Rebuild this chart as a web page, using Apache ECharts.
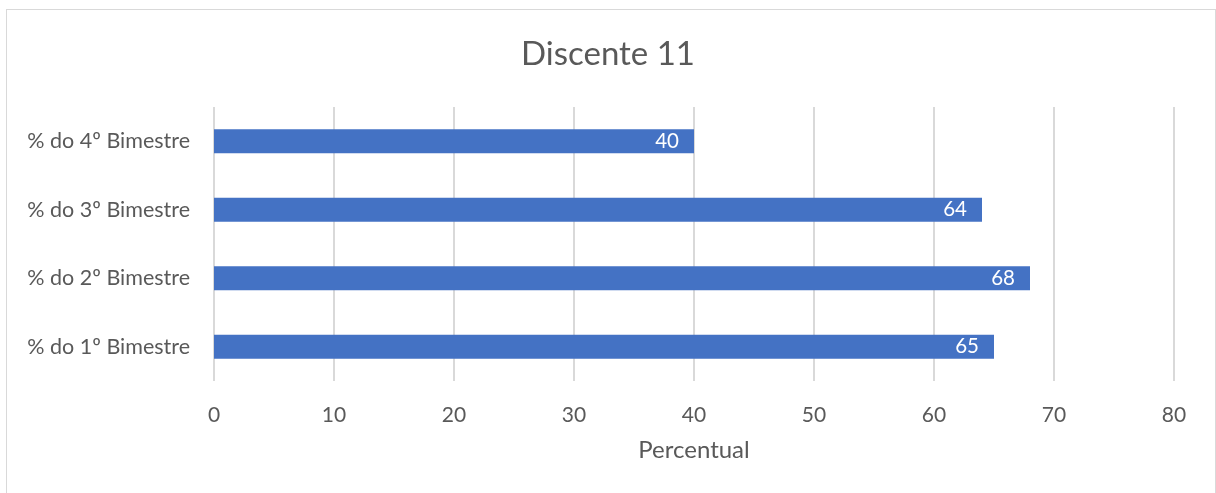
<!DOCTYPE html>
<html>
<head>
<meta charset="utf-8">
<script src="https://cdn.jsdelivr.net/npm/echarts@6/dist/echarts.min.js"></script>
<style>
  html, body { margin: 0; padding: 0; background: #fff; }
  #frame { position: absolute; left: 6px; top: 9px; width: 1208px; height: 490px; border: 1px solid #d9d9d9; }
  #chart { position: absolute; left: 0; top: 0; width: 1216px; height: 493px; }
</style>
</head>
<body>
<div id="frame"></div>
<div id="chart"></div>
<script>
// dados do gráfico
var categorias = ['% do 1º Bimestre', '% do 2º Bimestre', '% do 3º Bimestre', '% do 4º Bimestre'];
var valores = [65, 68, 64, 40];
var eixoMin = 0, eixoMax = 80, eixoPasso = 10;

var fonte = 'Lato, "Open Sans", sans-serif';
var myChart = echarts.init(document.getElementById('chart'));
var option = {
    animation: false,
    title: {
        text: 'Discente 11',
        left: 'center',
        top: 33,
        textStyle: { fontFamily: fonte, fontSize: 33, fontWeight: 'normal', color: '#595959' }
    },
    grid: { left: 214, right: 42, top: 107, bottom: 112 },
    xAxis: {
        type: 'value',
        min: eixoMin,
        max: eixoMax,
        interval: eixoPasso,
        name: 'Percentual',
        nameLocation: 'middle',
        nameGap: 57,
        nameTextStyle: { fontFamily: fonte, fontSize: 24, color: '#595959' },
        axisLine: { show: false },
        axisTick: { show: false },
        axisLabel: { fontFamily: fonte, fontSize: 21, color: '#595959', margin: 24 },
        splitLine: { lineStyle: { color: '#d9d9d9', width: 2 } }
    },
    yAxis: {
        type: 'category',
        data: categorias,
        axisLine: { show: false },
        axisTick: { show: false },
        axisLabel: { fontFamily: fonte, fontSize: 21.5, color: '#595959', margin: 24 }
    },
    series: [{
        type: 'bar',
        data: valores,
        barWidth: 24,
        itemStyle: { color: '#4472c4' },
        label: {
            show: true,
            position: 'insideRight',
            distance: 15,
            color: '#fff',
            fontFamily: fonte,
            fontSize: 20.5
        }
    }]
};
myChart.setOption(option);
</script>
</body>
</html>
